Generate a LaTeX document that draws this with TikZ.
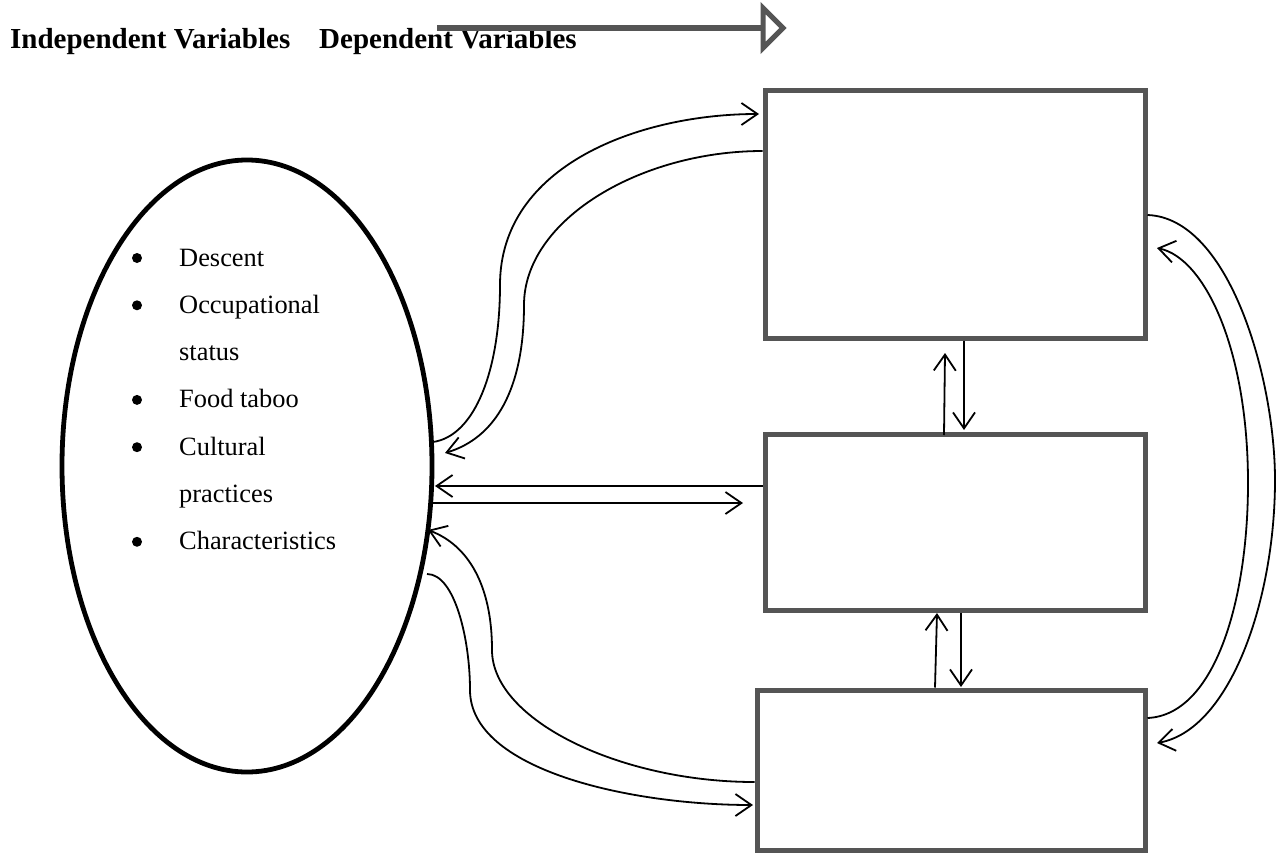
\documentclass[tikz,border=0pt]{standalone}
\usepackage{fontspec}
\setmainfont{Liberation Serif}
\usetikzlibrary{arrows.meta,shapes.geometric}
\definecolor{boxgray}{RGB}{85,85,85}
\begin{document}
\begin{tikzpicture}[x=1pt,y=-1pt,
  box/.style={draw=boxgray, line width=5pt, inner sep=0pt},
  conn/.style={line width=1.8pt, black},
  arr/.style={conn, -{Straight Barb[length=16pt,width=22pt]}},
  item/.style={anchor=base west, inner sep=0pt, font=\fontsize{26.4}{30}\selectfont},
  bul/.style={circle, fill=black, inner sep=0pt, minimum size=10pt},
  ttl/.style={anchor=base west, inner sep=0pt, font=\fontsize{29}{32}\selectfont\bfseries},
  bigarrow/.style={draw=boxgray, line width=6pt}
]
\useasboundingbox (0,0) rectangle (1280,854);

% title
\node[ttl] (t1) at (10,48) {Independent Variables};
\node[ttl] (t2) at (319,48) {Dependent Variables};
\coordinate (ta) at (437,28);
\coordinate (tb) at (763,28);
\draw[bigarrow] (ta) -- (tb);
\draw[boxgray, line width=5pt, fill=white, line join=miter] (763,8) -- (783,28) -- (763,48) -- cycle;

% ellipse
\node[ellipse, draw, line width=4.8pt, minimum width=370pt, minimum height=612pt, inner sep=0pt] (ell) at (247,466) {};

% list
\foreach \t [count=\i from 0] in {Descent,Occupational,status,Food taboo,Cultural,practices,Characteristics}{
  \node[item] (it\i) at (179,266+47.3*\i) {\t};
}
\foreach \i in {0,1,3,4,6}{
  \node[bul] (bu\i) at (137,266+47.3*\i-8) {};
}

% boxes
\node[box, minimum width=380pt, minimum height=248pt] (b1) at (955,214) {};
\node[box, minimum width=380pt, minimum height=176pt] (b2) at (955,522) {};
\node[box, minimum width=388pt, minimum height=160pt] (b3) at (951,770) {};

% top-left pair
\coordinate (e1) at (433,442);
\coordinate (e2) at (445,453);
\coordinate (p1) at (759,114);
\coordinate (p2) at (b1.west |- 0,151);
\draw[arr] (e1) .. controls (475,436) and (500,370) .. (500,285) .. controls (500,165) and (640,114) .. (p1);
\draw[arr] (p2) .. controls (640,151) and (524,220) .. (524,305) .. controls (524,390) and (495,438) .. (e2);

% middle horizontal pair
\coordinate (e3) at (435,486);
\coordinate (e4) at (431,503);
\coordinate (p4) at (743,503);
\draw[arr] (b2.west |- 0,486) -- (e3);
\draw[arr] (e4) -- (p4);

% bottom-left pair
\coordinate (e5) at (428,530);
\coordinate (e6) at (427,574);
\coordinate (p6) at (753,805);
\draw[arr] (b3.west |- 0,782) .. controls (620,782) and (492,720) .. (492,650) .. controls (492,585) and (468,545) .. (e5);
\draw[arr] (e6) .. controls (455,574) and (470,640) .. (470,690) .. controls (470,770) and (630,805) .. (p6);

% vertical arrows
\coordinate (v1) at (945,353);
\coordinate (v2) at (964,430);
\coordinate (v3) at (937,613);
\coordinate (v4) at (961,687);
\draw[arr] (944,435) -- (v1);
\draw[arr] (b1.south -| 964,0) -- (v2);
\draw[arr] (b3.north -| 935,0) -- (v3);
\draw[arr] (b2.south -| 961,0) -- (v4);

% right arcs
\coordinate (r1) at (1157,743);
\coordinate (r2) at (1157,248);
\draw[arr] (b1.east |- 0,215) .. controls (1230,218) and (1275,380) .. (1275,480) .. controls (1275,600) and (1230,730) .. (r1);
\draw[arr] (b3.east |- 0,718) .. controls (1215,715) and (1248,600) .. (1248,483) .. controls (1248,350) and (1205,258) .. (r2);
\end{tikzpicture}
\end{document}
